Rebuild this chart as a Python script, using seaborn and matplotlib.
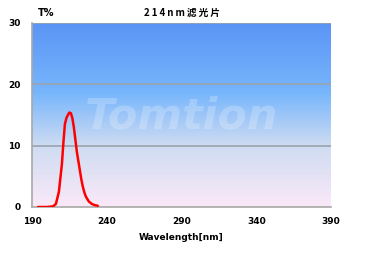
import numpy as np
import pandas as pd
import matplotlib
matplotlib.use("Agg")
import matplotlib.pyplot as plt
from matplotlib.colors import LinearSegmentedColormap
import seaborn as sns

# ---- data ----
wavelength = [194, 200, 204, 206, 208, 210, 211, 212, 213, 214, 215, 216, 217, 218,
              219, 220, 221, 222, 223, 224, 225, 226, 228, 230, 232, 234]
transmittance = [0.0, 0.0, 0.1, 0.5, 2.5, 7.0, 10.5, 13.5, 14.5, 15.0, 15.4, 15.3, 14.5, 13.0,
                 11.0, 9.0, 7.5, 6.0, 4.5, 3.3, 2.4, 1.7, 0.9, 0.5, 0.3, 0.2]
x_ticks = [190, 240, 290, 340, 390]
y_ticks = [0, 10, 20, 30]
title = "214nm滤光片"
x_label = "Wavelength[nm]"
y_label = "T%"
watermark = "Tomtion"

df = pd.DataFrame({"wl": wavelength, "t": transmittance})

sns.set_theme(style="white")
plt.rcParams["font.family"] = ["DejaVu Sans"]

fig = plt.figure(figsize=(3.69, 2.54), dpi=100)
ax = fig.add_axes([32 / 369, 47 / 254, 299 / 369, 184 / 254])

# gradient background
cmap = LinearSegmentedColormap.from_list(
    "bg", [(0.0, "#fbe9f8"), (0.33, "#cfdcf2"), (0.62, "#78b6fc"), (1.0, "#5a95f5")])
grad = np.linspace(0, 1, 256).reshape(-1, 1)
ax.imshow(grad, extent=[x_ticks[0], x_ticks[-1], y_ticks[0], y_ticks[-1]],
          origin="lower", aspect="auto", cmap=cmap, zorder=0)

# grid lines
for yv in y_ticks[1:]:
    ax.axhline(yv, color="#9aa3ae", lw=1.2, zorder=1)

# watermark
ax.text(290, 14.8, watermark, ha="center", va="center", fontsize=31,
        family=["DejaVu Sans"], fontweight="bold",
        fontstyle="italic", color="white", alpha=0.22, zorder=2)

sns.lineplot(data=df, x="wl", y="t", ax=ax, color="#ff0000", lw=1.8, zorder=3)

ax.set_xlim(x_ticks[0], x_ticks[-1])
ax.set_ylim(y_ticks[0], y_ticks[-1])
ax.set_xticks(x_ticks)
ax.set_yticks(y_ticks)
ax.set_xticklabels([str(v) for v in x_ticks], fontsize=6.5, fontweight="bold")
ax.set_yticklabels([str(v) for v in y_ticks], fontsize=6.5, fontweight="bold")
ax.tick_params(axis="both", length=3, width=1, color="#a0a0a0", direction="out",
               labelcolor="black")
ax.tick_params(axis="y", pad=5)
ax.tick_params(axis="x", pad=4)
for s in ["top", "right"]:
    ax.spines[s].set_visible(False)
for s in ["left", "bottom"]:
    ax.spines[s].set_color("#a8a8a8")
    ax.spines[s].set_linewidth(1.2)
ax.set_xlabel(x_label, fontsize=6.5, fontweight="bold", labelpad=5, color="black")
ax.set_ylabel("")

fig.text(46 / 369, 1 - 13 / 254, y_label, ha="center", va="center",
         fontsize=7, fontweight="bold", color="black")
fig.text(182 / 369, 1 - 13 / 254, "\u2009".join(title), ha="center", va="center",
         fontsize=7, fontweight="bold", color="black",
         family=["Noto Sans CJK SC", "DejaVu Sans"])

fig.savefig("out.png", dpi=100)
